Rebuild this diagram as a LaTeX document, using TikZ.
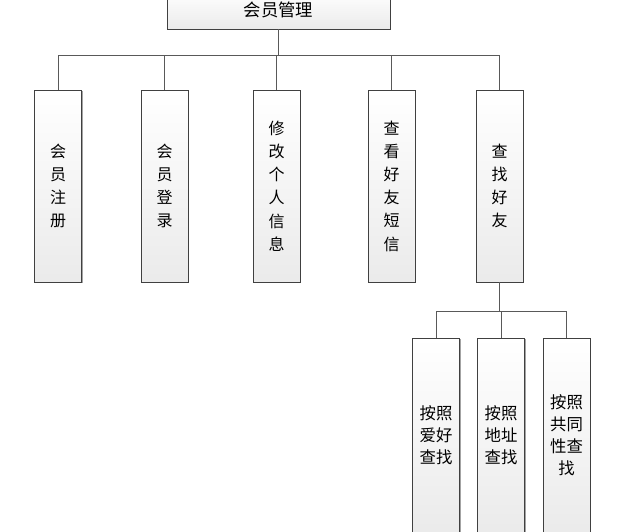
\documentclass[tikz,border=0pt]{standalone}
\usepackage{fontspec}
\newfontfamily\cjk{Noto Sans CJK SC}
\usetikzlibrary{shadows}

\begin{document}
\begin{tikzpicture}[x=0.75pt, y=-0.75pt,
        box/.style={draw=black!75, rectangle, top color=white, bottom color=black!8,
            drop shadow={shadow xshift=0.9pt, shadow yshift=-0.9pt, fill=black!45, opacity=0.8},
            align=center, inner sep=0pt},
        item/.style={box, minimum width=35.25pt, minimum height=144pt,
            font=\cjk\fontsize{12}{17.4}\selectfont},
        subitem/.style={box, minimum width=35.25pt, minimum height=145.5pt,
            font=\cjk\fontsize{12.3}{16.5}\selectfont},
        link/.style={draw=black!65, line width=0.75pt}]
    \useasboundingbox (0,0) rectangle (641,531);

    \node (member) [box, minimum width=167pt, minimum height=28.5pt,
        font=\cjk\fontsize{13}{15}\selectfont] at (278.5,10) {会员管理};

    \node (register) [item] at (58,186) {会\\员\\注\\册};
    \node (login) [item] at (164.5,186) {会\\员\\登\\录};
    \node (profile) [item] at (276.5,186) {修\\改\\个\\人\\信\\息};
    \node (message) [item] at (391.5,186) {查\\看\\好\\友\\短\\信};
    \node (search) [item] at (499.5,186) {查\\找\\好\\友};

    \node (byhobby) [subitem] at (436,435) {按照\\爱好\\查找};
    \node (byaddr) [subitem] at (501,435) {按照\\地址\\查找};
    \node (bycommon) [subitem] at (566.5,435) {按照\\共同\\性查\\找};

    \coordinate (bus) at (278.5,56);
    \coordinate (subbus) at (501,311);

    % first level
    \draw[link] (member.south) -- (member.south |- bus);
    \draw[link] (register.north) |- (search.north |- bus) -- (search.north);
    \foreach \n in {login, profile, message}
        \draw[link] (\n.north) -- (\n.north |- bus);

    % second level
    \draw[link] (search.south) -- (search.south |- subbus);
    \draw[link] (byhobby.north) |- (bycommon.north |- subbus) -- (bycommon.north);
    \draw[link] (byaddr.north) -- (byaddr.north |- subbus);
\end{tikzpicture}
\end{document}
